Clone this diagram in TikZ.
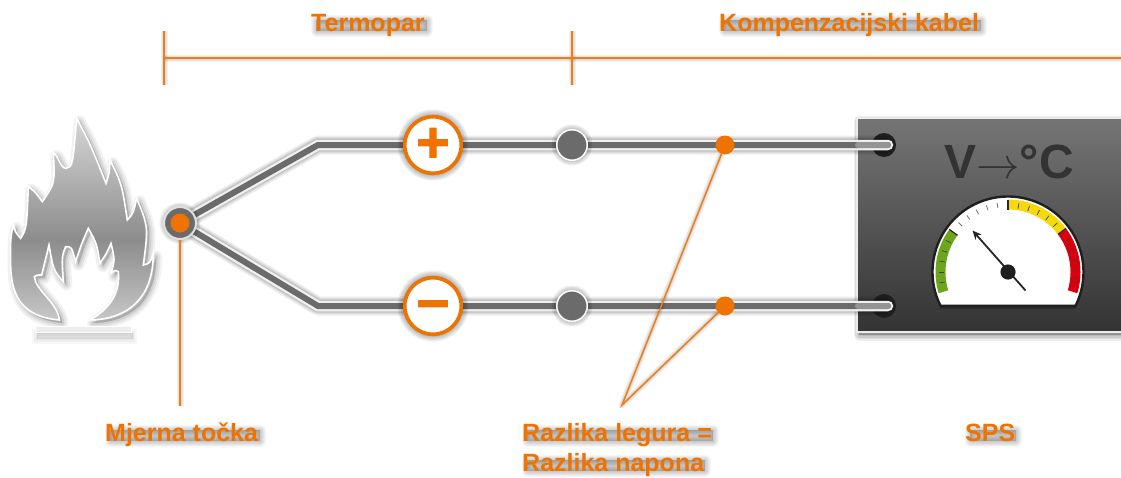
\documentclass[tikz,border=0pt]{standalone}
\usepackage{fontspec}
\usepackage{graphicx}
\setmainfont{Liberation Sans}
\newfontfamily\signfont{Liberation Sans}[BoldFeatures={FakeBold=2}]
\usetikzlibrary{arrows.meta}
\definecolor{org}{HTML}{EF7300}
\definecolor{wiregray}{HTML}{6B6B6B}
\definecolor{wireedge}{HTML}{F0F0F0}
\definecolor{gaugegreen}{HTML}{6DA51D}
\definecolor{gaugeyellow}{HTML}{F5D90A}
\definecolor{gaugered}{HTML}{D9000D}
\pgfdeclarelayer{boxlayer}
\pgfdeclarelayer{wirelayer}
\pgfdeclarelayer{shadowlayer}
\pgfsetlayers{boxlayer,wirelayer,shadowlayer,main}
\pgfdeclareverticalshading{flameshade}{100bp}{color(0bp)=(black!22); color(25bp)=(black!22); color(45bp)=(black!45); color(75bp)=(black!16); color(100bp)=(black!16)}
% soft shadow of a wire
\newcommand\softwire[1]{\foreach \w in {19,16,14,12}{\path[draw=black,draw opacity=.07,line width=\w pt,line join=round,shift={(1,3)}] #1;}}
% soft shadow of a thin line
\newcommand\softthin[1]{\foreach \w in {7,5,3}{\path[draw=black,draw opacity=.05,line width=\w pt,line join=round,shift={(2,2.5)}] #1;}}
\newcommand\softarea[1]{\foreach \w in {11,8,5,2}{\path[draw=black,fill=black,draw opacity=.07,fill opacity=.07,line width=\w pt,line join=round,shift={(2,3)}] #1;}}
% blurred shadow of a text line: x0, x1, baseline
\newcommand\softtext[3]{%
  \begin{pgfonlayer}{shadowlayer}
  \foreach \w in {11,9,7,5,3,1}{
    \path[draw=black,fill=black,draw opacity=.035,fill opacity=.035,line width=\w pt,line join=round] (#1+5,#3-11) rectangle (#2+1,#3);}
  \end{pgfonlayer}}
\tikzset{
  labeltext/.style={font=\bfseries\fontsize{25}{30}\selectfont,inner sep=0pt,anchor=base west},
  orangetext/.style={labeltext,text=org},
  orangeline/.style={draw=org!92!white,line width=1.5pt},
  dotnode/.style={circle,fill=org,inner sep=0pt,minimum size=19pt},
  signnode/.style={circle,draw=org,fill=white,line width=3.6pt,inner sep=0pt,minimum size=56.5pt,text=org,font=\signfont\bfseries\fontsize{57}{57}\selectfont},
  jointnode/.style={circle,draw=white,fill=wiregray,line width=1.5pt,inner sep=0pt,minimum size=30.5pt},
  termnode/.style={circle,fill=black!88,inner sep=0pt,minimum size=24pt},
  wireout/.style={draw=wireedge,line width=10.5pt,line join=miter,line cap=round},
  wirein/.style={draw=wiregray,line width=6pt,line join=miter,line cap=round},
  bandtick/.style={draw=black!75,line width=.7pt},
  whitetick/.style={draw=black!55,line width=.8pt}
}
\def\flamepath{(178,660) .. controls (60,650) and (30,580) .. (32,480)
 .. controls (30,430) and (33,400) .. (40,375)
 .. controls (45,395) .. (62,415)
 .. controls (80,385) .. (85,260)
 .. controls (105,275) .. (127,305)
 .. controls (165,250) .. (160,158)
 .. controls (175,165) and (180,205) .. (198,205)
 .. controls (218,200) .. (230,55)
 .. controls (270,130) .. (318,250)
 .. controls (328,220) .. (330,180)
 .. controls (365,250) .. (382,360)
 .. controls (400,340) .. (410,295)
 .. controls (445,380) .. (430,495)
 .. controls (450,490) .. (460,460)
 .. controls (460,630) and (340,660) .. (270,660)
 .. controls (340,620) and (360,570) .. (355,515)
 .. controls (345,510) .. (333,520)
 .. controls (345,480) .. (333,430)
 .. controls (320,460) .. (300,490)
 .. controls (290,430) .. (265,385)
 .. controls (245,430) .. (227,485)
 .. controls (215,440) .. (197,440)
 .. controls (185,470) .. (190,545)
 .. controls (160,510) .. (147,435)
 .. controls (135,480) .. (125,525)
 .. controls (110,525) .. (103,530)
 .. controls (105,570) and (175,610) .. (178,660) -- cycle}
\newcommand\gaugeband[3]{\fill[#3] (#1:72.5) arc[start angle=#1,end angle=#2,radius=72.5] -- (#2:62.5) arc[start angle=#2,end angle=#1,radius=62.5] -- cycle;}
\begin{document}
\begin{tikzpicture}[x=1pt,y=-1pt]
\useasboundingbox (0,0) rectangle (1121,477);
\begin{pgfonlayer}{boxlayer}
\fill[white] (0,0) rectangle (1121,477);
\end{pgfonlayer}

% flame
\begin{scope}[shift={(0,100)},x=.3333pt,y=-.3333pt]
  \begin{pgfonlayer}{boxlayer}
    \path[draw=black,fill=black,draw opacity=.05,fill opacity=.05,line width=12pt,line join=round,shift={(9,9)}] \flamepath;
    \path[draw=black,fill=black,draw opacity=.06,fill opacity=.06,line width=8pt,line join=round,shift={(9,9)}] \flamepath;
    \path[draw=black,fill=black,draw opacity=.08,fill opacity=.08,line width=4pt,line join=round,shift={(9,9)}] \flamepath;
    \path[draw=black,fill=black,draw opacity=.03,fill opacity=.03,line width=9pt,shift={(4,20)}] (107,680) rectangle (395,698);
    \path[draw=black,fill=black,draw opacity=.03,fill opacity=.03,line width=5pt,shift={(4,20)}] (107,680) rectangle (395,698);
    \path[draw=black,fill=black,draw opacity=.03,fill opacity=.03,line width=1.5pt,shift={(4,20)}] (107,680) rectangle (395,698);
  \end{pgfonlayer}
  \path[shading=flameshade] \flamepath;
  \draw[white,line width=1.6pt,line join=miter] \flamepath;
  \draw[draw=white,fill=black!7,line width=1.6pt] (107,680) rectangle (395,698);
\end{scope}

% instrument box and terminals
\begin{pgfonlayer}{boxlayer}
  \softarea{(857,118) rectangle (1140,332)}
  \node[draw=white!92!black,line width=1.6pt,top color=black!54,bottom color=black!80,inner sep=0pt,minimum width=283pt,minimum height=214pt] (box) at (998.5,225) {};
  \foreach \yy/\nm in {145/tu,306/tl}{
    \node[termnode] (\nm) at (884,\yy) {};
  }
\end{pgfonlayer}
\coordinate (eu) at (888,145);
\coordinate (el) at (888,306);
\coordinate (su) at (858,145);
\coordinate (sl) at (858,306);

% nodes
\node[circle,draw=black!12,fill=wiregray,line width=2pt,inner sep=0pt,minimum size=32pt] (mj) at (180,223) {};
\node[dotnode] (mjd) at (180,223) {};
\coordinate (bu) at (318,145);
\coordinate (bl) at (318,306);
\node[signnode] (plus) at (433,145) {+};
\node[signnode] (minus) at (433,306) {\vphantom{+}−};
\node[jointnode] (ju) at (572,145) {};
\node[jointnode] (jl) at (572,306) {};
\node[dotnode] (du) at (725,145) {};
\node[dotnode] (dl) at (725,306) {};
\coordinate (apex) at (622,405);
\coordinate (ml) at (180,406);
\coordinate (ta) at (164,31);
\coordinate (tb) at (164,85);
\coordinate (tc) at (572,31);
\coordinate (td) at (572,85);
\coordinate (ha) at (164,58);
\coordinate (hb) at (1130,58);

% wires
\begin{pgfonlayer}{wirelayer}
  \softwire{(mj.center) -- (bu) -- (eu)}
  \softwire{(mj.center) -- (bl) -- (el)}
  \path[wireout] (mj.center) -- (bu) -- (eu);
  \path[wireout] (mj.center) -- (bl) -- (el);
  \path[wirein] (mj.center) -- (bu) -- (eu);
  \path[wirein] (mj.center) -- (bl) -- (el);
  \path[wirein,draw=black!42] (su) -- (eu);
  \path[wirein,draw=black!42] (sl) -- (el);
\end{pgfonlayer}

% shadows of nodes and orange lines
\begin{pgfonlayer}{shadowlayer}
  \softarea{(plus) circle[radius=30]}
  \softarea{(minus) circle[radius=30]}
  \softarea{(ju) circle[radius=15]}
  \softarea{(jl) circle[radius=15]}
  \softarea{(mj) circle[radius=15]}
  \softthin{(ta) -- (tb)}
  \softthin{(tc) -- (td)}
  \softthin{(ha) -- (hb)}
  \softthin{(mjd) -- (ml)}
  \softthin{(du) -- (apex) -- (dl)}
  \draw[orangeline] (ta) -- (tb);
  \draw[orangeline] (tc) -- (td);
  \draw[orangeline] (ha) -- (hb);
  \draw[orangeline] (mjd.center) -- (ml);
  \draw[orangeline,line join=miter] (du.center) -- (apex) -- (dl.center);
\end{pgfonlayer}

% labels
\softtext{311}{426}{31}
\node[orangetext] (t1) at (311,31) {Termopar};
\softtext{719}{980}{31}
\node[orangetext] (t2) at (719,31) {Kompenzacijski kabel};
\softtext{105}{259}{441}
\node[orangetext] (t3) at (105,441) {Mjerna točka};
\softtext{522}{712}{441}
\node[orangetext] (t4) at (522,441) {Razlika legura =};
\softtext{522}{704}{471}
\node[orangetext] (t5) at (522,471) {Razlika napona};
\softtext{965}{1015}{441}
\node[orangetext] (t6) at (965,441) {SPS};

% V -> C
\node[font=\bfseries\fontsize{48}{48}\selectfont,text=black!80,inner sep=0pt,anchor=base] (vc) at (1009,178) {V\scalebox{1.75}{$\rightarrow$}°C};

% gauge
\begin{scope}[shift={(1008,272)},x=1pt,y=1pt]
  \path[fill=black,fill opacity=.25] (-68,-37) rectangle (68,-34);
  \draw[black!88,fill=white,line width=2.4pt,line join=miter] (206.6:75.5) arc[start angle=206.6,end angle=-26.6,radius=75.5] -- cycle;
  \gaugeband{197}{144}{gaugegreen}
  \gaugeband{90}{37}{gaugeyellow}
  \gaugeband{37}{-17}{gaugered}
  \foreach \a in {153,162,171,180,189,81,72,63,54,45,28,19,10,1,-8}{
    \draw[bandtick] (\a:64) -- (\a:69.5);
  }
  \foreach \a in {99,108,117,126,135}{
    \draw[whitetick] (\a:65) -- (\a:70);
  }
  \foreach \a in {144,90,37}{
    \draw[black!85,line width=1.2pt] (\a:62.5) -- (\a:72.5);
  }
  \draw[black!85,line width=1.8pt,-{Stealth[length=9pt,width=8pt]}] (17.5,-18.5) -- (-35.5,41.5);
  \fill[black!88] (0,0) circle[radius=7.6];
\end{scope}
\end{tikzpicture}
\end{document}
